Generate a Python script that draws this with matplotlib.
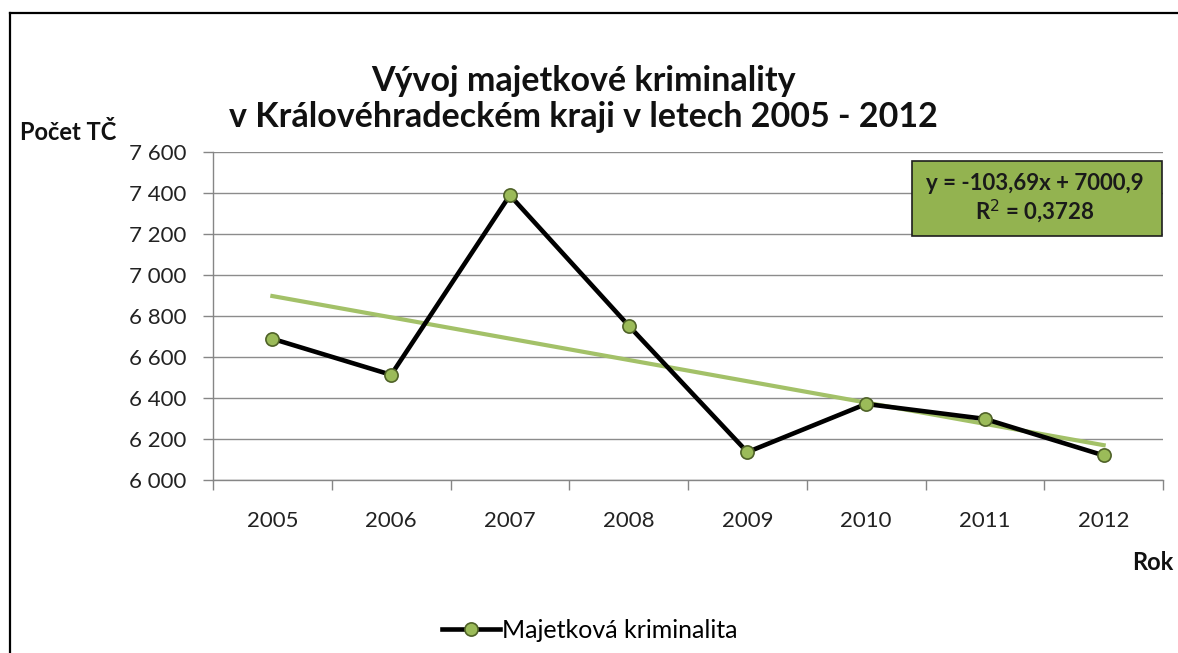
import numpy as np
import matplotlib.pyplot as plt
from matplotlib.lines import Line2D
from matplotlib.patches import Rectangle
from matplotlib.ticker import FuncFormatter, MultipleLocator

plt.rcParams['font.family'] = ['Lato', 'DejaVu Sans']

# data
years = ['2005', '2006', '2007', '2008', '2009', '2010', '2011', '2012']
crimes = [6689, 6513, 7389, 6753, 6136, 6371, 6298, 6120]
eq_text = 'y = -103,69x + 7000,9\nR$^2$ = 0,3728'

x = np.arange(1, len(years) + 1)
slope, icpt = np.polyfit(x, crimes, 1)
trend = slope * x + icpt

fig = plt.figure(figsize=(11.78, 6.53), dpi=100)
ax = fig.add_axes([213 / 1178, 1 - 480 / 653, 950 / 1178, 328 / 653])

ax.plot(x, trend, color='#a3c168', lw=3, zorder=3)
ax.plot(x, crimes, color='black', lw=3.3, marker='o', markersize=9.5,
        markerfacecolor='#9bbb59', markeredgecolor='#4f6228', markeredgewidth=1.2,
        zorder=4, label='Majetková kriminalita')

ax.set_xlim(0.5, len(years) + 0.5)
ax.set_ylim(6000, 7600)
ax.yaxis.set_major_locator(MultipleLocator(200))
ax.yaxis.set_major_formatter(FuncFormatter(lambda v, p: f'{int(v):,}'.replace(',', ' ')))
ax.set_xticks(x)
ax.set_xticklabels(years)
ax.set_xticks(np.arange(0.5, len(years) + 1), minor=True)
ax.tick_params(axis='x', which='major', length=0, pad=22, labelsize=16, labelcolor='#222222')
ax.tick_params(axis='x', which='minor', length=7, width=1, color='#868686', direction='out')
ax.tick_params(axis='y', length=7, width=1, color='#868686', labelsize=16,
               labelcolor='#222222', pad=12)
ax.grid(axis='y', color='#8c8c8c', lw=1)
ax.set_axisbelow(True)
for s in ['top', 'right']:
    ax.spines[s].set_visible(False)
for s in ['left', 'bottom']:
    ax.spines[s].set_color('#868686')
    ax.spines[s].set_linewidth(1)

# equation box
fig.add_artist(Rectangle((912 / 1178, 1 - 236 / 653), 250 / 1178, 75 / 653,
                         transform=fig.transFigure, facecolor='#93b350',
                         edgecolor='#1e1e1e', lw=1.2, zorder=5))
fig.text(1035 / 1178, 1 - 199 / 653, eq_text, ha='center', va='center',
         fontsize=16, fontweight='bold', color='#1a1a1a', linespacing=1.15, zorder=6)

# titles and axis labels
fig.text(0.495, 1 - 81 / 653, 'Vývoj majetkové kriminality', ha='center', va='center',
         fontsize=24.5, fontweight='bold', color='#111111')
fig.text(0.495, 1 - 117 / 653, 'v Královéhradeckém kraji v letech 2005 - 2012', ha='center',
         va='center', fontsize=24.5, fontweight='bold', color='#111111')
fig.text(20 / 1178, 1 - 133 / 653, 'Počet TČ', ha='left', va='center',
         fontsize=17, fontweight='bold', color='#111111')
fig.text(1132 / 1178, 1 - 563 / 653, 'Rok', ha='left', va='center',
         fontsize=17, fontweight='bold', color='#111111')

ax.legend(loc='center', bbox_to_anchor=(590 / 1178, 1 - 630 / 653),
          bbox_transform=fig.transFigure, frameon=False, fontsize=18,
          handlelength=2.3, handletextpad=0.1)

# chart border (only top and left visible)
fig.add_artist(Line2D([10 / 1178, 1], [1 - 13 / 653, 1 - 13 / 653], color='black', lw=1.6))
fig.add_artist(Line2D([10 / 1178, 10 / 1178], [0, 1 - 13 / 653], color='black', lw=1.6))

fig.savefig('out.png', dpi=100)
